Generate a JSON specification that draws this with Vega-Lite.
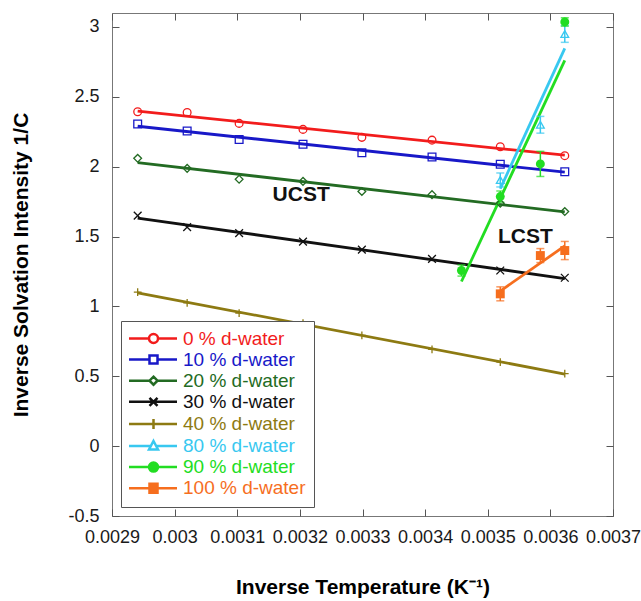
{
  "$schema": "https://vega.github.io/schema/vega-lite/v6.json",
  "width": 501,
  "height": 503,
  "autosize": "none",
  "padding": {"left": 112, "top": 13, "right": 28, "bottom": 85},
  "config": {
    "font": "Liberation Sans",
    "view": {"stroke": "#777", "strokeWidth": 1},
    "axis": {"grid": false, "domain": false, "tickColor": "#555", "tickSize": -7, "tickWidth": 1, "labelFontSize": 18, "labelColor": "#1a1a1a", "labelFont": "Liberation Sans", "labelOverlap": false, "labelFlush": false, "titleFont": "Liberation Sans", "titleFontSize": 21, "titleFontWeight": "bold", "titleColor": "#000"}
  },
  "data": {"values": [
    {"series": "0 % d-water", "x": 0.002941, "y": 2.393},
    {"series": "0 % d-water", "x": 0.003020, "y": 2.388},
    {"series": "0 % d-water", "x": 0.003103, "y": 2.31},
    {"series": "0 % d-water", "x": 0.003205, "y": 2.267},
    {"series": "0 % d-water", "x": 0.003299, "y": 2.21},
    {"series": "0 % d-water", "x": 0.003411, "y": 2.19},
    {"series": "0 % d-water", "x": 0.003520, "y": 2.143},
    {"series": "0 % d-water", "x": 0.003623, "y": 2.079},
    {"series": "10 % d-water", "x": 0.002941, "y": 2.305},
    {"series": "10 % d-water", "x": 0.003020, "y": 2.255},
    {"series": "10 % d-water", "x": 0.003103, "y": 2.195},
    {"series": "10 % d-water", "x": 0.003205, "y": 2.16},
    {"series": "10 % d-water", "x": 0.003299, "y": 2.10},
    {"series": "10 % d-water", "x": 0.003411, "y": 2.07},
    {"series": "10 % d-water", "x": 0.003520, "y": 2.017},
    {"series": "10 % d-water", "x": 0.003623, "y": 1.964},
    {"series": "20 % d-water", "x": 0.002941, "y": 2.06},
    {"series": "20 % d-water", "x": 0.003020, "y": 1.988},
    {"series": "20 % d-water", "x": 0.003103, "y": 1.91},
    {"series": "20 % d-water", "x": 0.003205, "y": 1.895},
    {"series": "20 % d-water", "x": 0.003299, "y": 1.823},
    {"series": "20 % d-water", "x": 0.003411, "y": 1.80},
    {"series": "20 % d-water", "x": 0.003520, "y": 1.738},
    {"series": "20 % d-water", "x": 0.003623, "y": 1.679},
    {"series": "30 % d-water", "x": 0.002941, "y": 1.65},
    {"series": "30 % d-water", "x": 0.003020, "y": 1.567},
    {"series": "30 % d-water", "x": 0.003103, "y": 1.524},
    {"series": "30 % d-water", "x": 0.003205, "y": 1.464},
    {"series": "30 % d-water", "x": 0.003299, "y": 1.407},
    {"series": "30 % d-water", "x": 0.003411, "y": 1.34},
    {"series": "30 % d-water", "x": 0.003520, "y": 1.257},
    {"series": "30 % d-water", "x": 0.003623, "y": 1.205},
    {"series": "40 % d-water", "x": 0.002941, "y": 1.102},
    {"series": "40 % d-water", "x": 0.003020, "y": 1.026},
    {"series": "40 % d-water", "x": 0.003103, "y": 0.952},
    {"series": "40 % d-water", "x": 0.003205, "y": 0.881},
    {"series": "40 % d-water", "x": 0.003299, "y": 0.793},
    {"series": "40 % d-water", "x": 0.003411, "y": 0.693},
    {"series": "40 % d-water", "x": 0.003520, "y": 0.602},
    {"series": "40 % d-water", "x": 0.003623, "y": 0.519},
    {"series": "80 % d-water", "x": 0.003520, "y": 1.905, "err": 0.05},
    {"series": "80 % d-water", "x": 0.003584, "y": 2.30, "err": 0.06},
    {"series": "80 % d-water", "x": 0.003623, "y": 2.95, "err": 0.06},
    {"series": "90 % d-water", "x": 0.003458, "y": 1.257, "err": 0.04},
    {"series": "90 % d-water", "x": 0.003520, "y": 1.786, "err": 0.04},
    {"series": "90 % d-water", "x": 0.003584, "y": 2.02, "err": 0.09},
    {"series": "90 % d-water", "x": 0.003623, "y": 3.036, "err": 0.03},
    {"series": "100 % d-water", "x": 0.003520, "y": 1.09, "err": 0.05},
    {"series": "100 % d-water", "x": 0.003584, "y": 1.364, "err": 0.05},
    {"series": "100 % d-water", "x": 0.003623, "y": 1.40, "err": 0.065}
  ]},
  "layer": [
    {
      "transform": [{"regression": "y", "on": "x", "groupby": ["series"]}],
      "mark": {"type": "line", "strokeWidth": 2.8},
      "encoding": {
        "x": {"field": "x", "type": "quantitative",
          "scale": {"domain": [0.0029, 0.0037], "nice": false, "zero": false},
          "axis": {"orient": "bottom", "values": [0.0029, 0.003, 0.0031, 0.0032, 0.0033, 0.0034, 0.0035, 0.0036, 0.0037], "format": "~g", "labelPadding": 19, "title": "Inverse Temperature (K⁻¹)", "titlePadding": 30}},
        "y": {"field": "y", "type": "quantitative",
          "scale": {"domain": [-0.5, 3.1], "nice": false, "zero": false},
          "axis": {"orient": "left", "values": [-0.5, 0, 0.5, 1, 1.5, 2, 2.5, 3], "format": "~g", "labelExpr": "replace(datum.label, '−', '-')", "labelPadding": 20, "title": "Inverse Solvation Intensity 1/C", "titlePadding": 36}},
        "color": {"field": "series", "type": "nominal",
          "scale": {"domain": ["0 % d-water", "10 % d-water", "20 % d-water", "30 % d-water", "40 % d-water", "80 % d-water", "90 % d-water", "100 % d-water"],
                    "range": ["#f21c1c", "#1818c8", "#236b23", "#111111", "#8d7a12", "#38c8f0", "#22dd22", "#f66e1e"]},
          "legend": {
            "title": null,
            "orient": "bottom-left",
            "offset": 9,
            "padding": 8,
            "rowPadding": 1.1,
            "strokeColor": "#555",
            "fillColor": "#ffffff",
            "labelFont": "Liberation Sans",
            "labelFontSize": 19,
            "labelOffset": 35,
            "symbolSize": 4,
            "symbolStrokeWidth": 2.5,
            "encode": {
              "symbols": {
                "update": {
                  "shape": {"signal": "['M-9.5,0H10.5M19.5,0H38.5M19.5,0A4.5,4.5,0,1,1,10.5,0A4.5,4.5,0,1,1,19.5,0', 'M-9.5,0H11M19,0H38.5M11,-4H19V4H11Z', 'M-9.5,0H11M19,0H38.5M15,-4L19,0L15,4L11,0Z', 'M-9.5,0H38.5M11,-4L19,4M11,4L19,-4', 'M-9.5,0H38.5M15,-5V5', 'M-9.5,0H11.5M18.5,0H38.5M15,-5L19.5,3.5H10.5Z', 'M-9.5,0H38.5M19.5,0A4.5,4.5,0,1,1,10.5,0A4.5,4.5,0,1,1,19.5,0', 'M-9.5,0H38.5M11,-4.5H19V4.5H11Z'][datum.index]"},
                  "fill": {"signal": "datum.index >= 6 ? scale('color', datum.value) : 'transparent'"},
                  "stroke": {"signal": "scale('color', datum.value)"},
                  "strokeWidth": {"value": 2.5},
                  "size": {"value": 4},
                  "opacity": {"value": 1}
                }
              },
              "labels": {
                "update": {
                  "fill": {"signal": "scale('color', datum.value)"}
                }
              }
            }
          }}
      }
    },
    {
      "transform": [{"filter": {"field": "series", "equal": "80 % d-water"}}],
      "mark": {"type": "errorbar", "ticks": true, "thickness": 1.5, "size": 8, "color": "#38c8f0"},
      "encoding": {
        "x": {"field": "x", "type": "quantitative", "axis": null},
        "y": {"field": "y", "type": "quantitative", "axis": null},
        "yError": {"field": "err"}
      }
    },
    {
      "transform": [{"filter": {"field": "series", "equal": "90 % d-water"}}],
      "mark": {"type": "errorbar", "ticks": true, "thickness": 1.5, "size": 8, "color": "#22dd22"},
      "encoding": {
        "x": {"field": "x", "type": "quantitative", "axis": null},
        "y": {"field": "y", "type": "quantitative", "axis": null},
        "yError": {"field": "err"}
      }
    },
    {
      "transform": [{"filter": {"field": "series", "equal": "100 % d-water"}}],
      "mark": {"type": "errorbar", "ticks": true, "thickness": 1.5, "size": 8, "color": "#f66e1e"},
      "encoding": {
        "x": {"field": "x", "type": "quantitative", "axis": null},
        "y": {"field": "y", "type": "quantitative", "axis": null},
        "yError": {"field": "err"}
      }
    },
    {
      "transform": [{"filter": {"not": {"field": "series", "oneOf": ["90 % d-water", "100 % d-water"]}}}],
      "mark": {"type": "point", "filled": false, "size": 60, "strokeWidth": 1.3, "opacity": 1},
      "encoding": {
        "x": {"field": "x", "type": "quantitative", "axis": {"orient": "top", "labels": false, "title": null, "values": [0.0029, 0.003, 0.0031, 0.0032, 0.0033, 0.0034, 0.0035, 0.0036, 0.0037]}},
        "y": {"field": "y", "type": "quantitative", "axis": {"orient": "right", "labels": false, "title": null, "values": [-0.5, 0, 0.5, 1, 1.5, 2, 2.5, 3]}},
        "color": {"field": "series", "type": "nominal", "legend": null},
        "shape": {"field": "series", "type": "nominal",
          "scale": {"domain": ["100 % d-water", "90 % d-water", "80 % d-water", "40 % d-water", "30 % d-water", "20 % d-water", "10 % d-water", "0 % d-water"],
                    "range": ["square", "circle", "triangle-up", "M0,-1L0,1M-1,0L1,0", "M-1,-1L1,1M-1,1L1,-1", "diamond", "square", "circle"]},
          "legend": null}
      }
    },
    {
      "transform": [{"filter": {"field": "series", "oneOf": ["90 % d-water", "100 % d-water"]}}],
      "mark": {"type": "point", "filled": true, "size": 80, "opacity": 1},
      "encoding": {
        "x": {"field": "x", "type": "quantitative", "axis": null},
        "y": {"field": "y", "type": "quantitative", "axis": null},
        "fill": {"field": "series", "type": "nominal", "scale": {"domain": ["90 % d-water", "100 % d-water"], "range": ["#22dd22", "#f66e1e"]}, "legend": null},
        "shape": {"field": "series", "type": "nominal", "legend": null}
      }
    },
    {
      "data": {"values": [
        {"label": "UCST", "x": 0.003202, "y": 1.80},
        {"label": "LCST", "x": 0.00356, "y": 1.496}
      ]},
      "mark": {"type": "text", "fontSize": 21, "fontWeight": "bold", "font": "Liberation Sans", "color": "#111", "align": "center", "baseline": "middle"},
      "encoding": {
        "x": {"field": "x", "type": "quantitative", "axis": null},
        "y": {"field": "y", "type": "quantitative", "axis": null},
        "text": {"field": "label"}
      }
    }
  ]
}
